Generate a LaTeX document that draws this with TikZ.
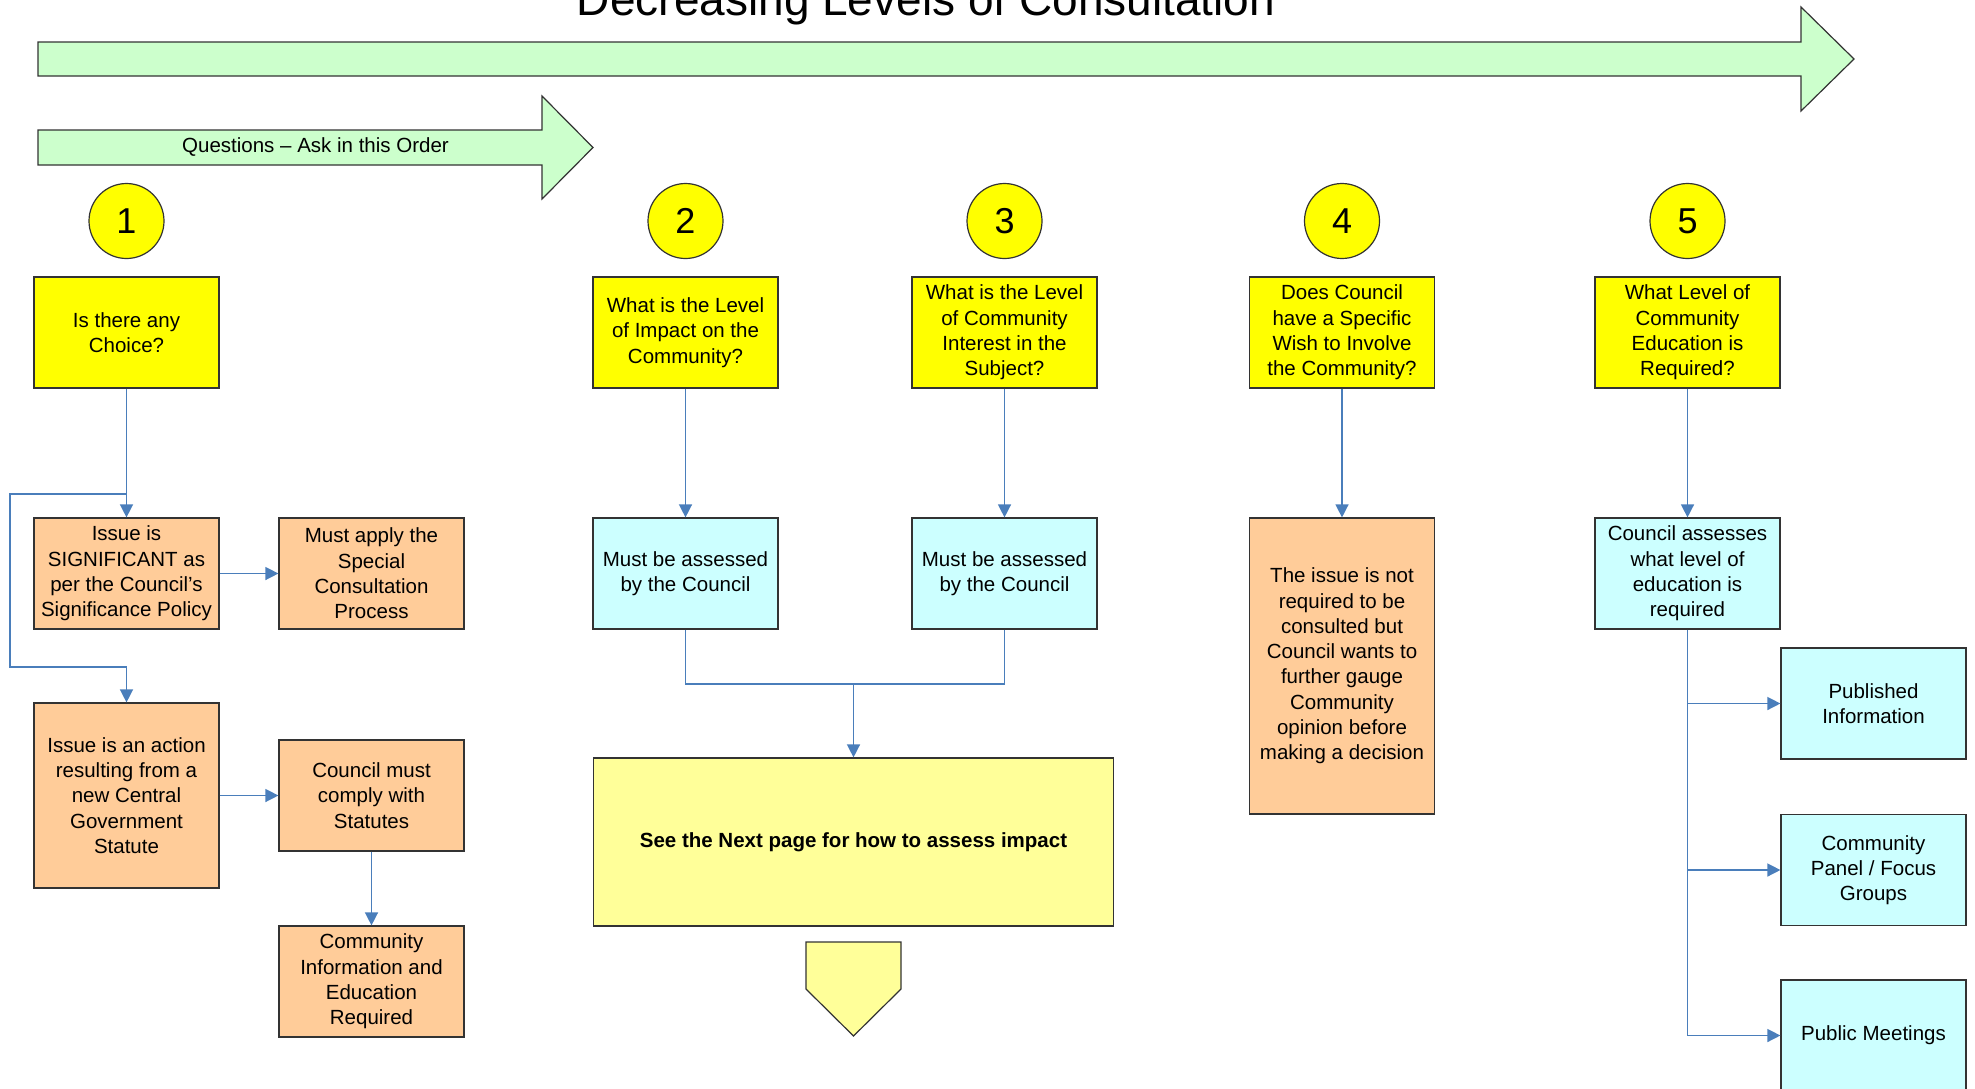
\documentclass[tikz,border=0pt]{standalone}
\usepackage{fontspec}
\setmainfont{Liberation Sans}
\usetikzlibrary{arrows.meta}
\definecolor{qyellow}{HTML}{FFFF00}
\definecolor{peach}{HTML}{FFCC99}
\definecolor{lcyan}{HTML}{CCFFFF}
\definecolor{lyellow}{HTML}{FFFF99}
\definecolor{lgreen}{HTML}{CCFFCC}
\definecolor{connblue}{HTML}{4A7EBB}
\definecolor{edge}{HTML}{333333}
\newcommand{\boxfont}{\fontsize{20.5}{25.3}\selectfont}
\tikzset{
  basebox/.style={draw=edge, line width=1.2pt, minimum width=185pt, minimum height=111pt,
    inner sep=0pt, align=center, font=\boxfont},
  qbox/.style={basebox, fill=qyellow},
  obox/.style={basebox, fill=peach},
  cbox/.style={basebox, fill=lcyan},
  numcirc/.style={circle, draw=edge, line width=1.2pt, fill=qyellow, minimum size=75pt,
    inner sep=0pt, font=\fontsize{36}{36}\selectfont},
  conn/.style={draw=connblue, line width=1.4pt, -{Triangle[length=13pt,width=13pt]}},
  plain/.style={draw=connblue, line width=1.4pt},
  garrow/.style={draw=edge, line width=1.2pt, fill=lgreen, line join=miter}
}
\begin{document}
\begin{tikzpicture}[x=1pt,y=-1pt]
\useasboundingbox (0,0) rectangle (1975,1088);
% green arrows
\path[garrow] (38,42) -- (1801,42) -- (1801,7) -- (1854,59) -- (1801,111) -- (1801,76) -- (38,76) -- cycle;
\path[garrow] (38,130) -- (542,130) -- (542,96) -- (593,147.5) -- (542,199) -- (542,165) -- (38,165) -- cycle;
\node[font=\fontsize{46}{46}\selectfont, anchor=base, inner sep=0pt] (title) at (926,15) {Decreasing Levels of Consultation};
\node[font=\boxfont, inner sep=0pt] (order) at (315.5,147.5) {Questions – Ask in this Order};
% numbers
\node[numcirc] (n1) at (126.5,221) {1};
\node[numcirc] (n2) at (685.5,221) {2};
\node[numcirc] (n3) at (1004.5,221) {3};
\node[numcirc] (n4) at (1342,221) {4};
\node[numcirc] (n5) at (1687.5,221) {5};
% question boxes
\node[qbox] (q1) at (126.5,332.5) {Is there any\\Choice?};
\node[qbox] (q2) at (685.5,332.5) {What is the Level\\of Impact on the\\Community?};
\node[qbox] (q3) at (1004.5,332.5) {What is the Level\\of Community\\Interest in the\\Subject?};
\node[qbox] (q4) at (1342,332.5) {Does Council\\have a Specific\\Wish to Involve\\the Community?};
\node[qbox] (q5) at (1687.5,332.5) {What Level of\\Community\\Education is\\Required?};
% second row
\node[obox] (sig) at (126.5,573.5) {Issue is\\SIGNIFICANT as\\per the Council’s\\Significance Policy};
\node[obox] (apply) at (371.5,573.5) {Must apply the\\Special\\Consultation\\Process};
\node[cbox] (as2) at (685.5,573.5) {Must be assessed\\by the Council};
\node[cbox] (as3) at (1004.5,573.5) {Must be assessed\\by the Council};
\node[obox, minimum height=296pt] (notreq) at (1342,666) {The issue is not\\required to be\\consulted but\\Council wants to\\further gauge\\Community\\opinion before\\making a decision};
\node[cbox] (edu) at (1687.5,573.5) {Council assesses\\what level of\\education is\\required};
% left lower
\node[obox, minimum height=185pt] (action) at (126.5,795.5) {Issue is an action\\resulting from a\\new Central\\Government\\Statute};
\node[obox] (comply) at (371.5,795.5) {Council must\\comply with\\Statutes};
\node[obox] (cinfo) at (371.5,981.5) {Community\\Information and\\Education\\Required};
% centre
\node[basebox, fill=lyellow, minimum width=520pt, minimum height=168pt, font=\boxfont\bfseries] (big) at (853.5,842) {See the Next page for how to assess impact};
\path[draw=edge, line width=1.2pt, fill=lyellow] (806,942) -- (901,942) -- (901,989) -- (853.5,1036) -- (806,989) -- cycle;
% right
\node[cbox] (pub) at (1873.5,703.5) {Published\\Information};
\node[cbox] (panel) at (1873.5,870) {Community\\Panel / Focus\\Groups};
\node[cbox] (public) at (1873.5,1035.5) {Public Meetings};
% connectors
\draw[conn] (q1) -- (sig);
\coordinate (br) at (126.5,494);
\coordinate (lp1) at (10,494);
\coordinate (lp2) at (10,667);
\draw[conn] (br) -- (lp1) -- (lp2) -| (action.north);
\draw[conn] (sig) -- (apply);
\draw[conn] (action) -- (comply);
\draw[conn] (comply) -- (cinfo);
\draw[conn] (q2) -- (as2);
\draw[conn] (q3) -- (as3);
\draw[conn] (q4) -- (notreq);
\draw[conn] (q5) -- (edu);
\coordinate (jn) at (853.5,684);
\draw[plain] (as2.south) |- (jn);
\draw[plain] (as3.south) |- (jn);
\draw[conn] (jn) -- (big.north);
\draw[conn] (edu.south) |- (public.west);
\draw[conn] (edu.south |- pub.west) -- (pub.west);
\draw[conn] (edu.south |- panel.west) -- (panel.west);
\end{tikzpicture}
\end{document}
